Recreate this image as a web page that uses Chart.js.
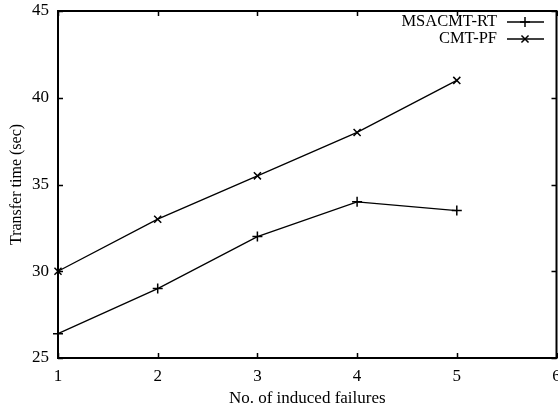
<!DOCTYPE html>
<html>
<head>
<meta charset="utf-8">
<script src="https://cdn.jsdelivr.net/npm/chart.js@4/dist/chart.umd.min.js"></script>
<style>
 html, body { margin: 0; padding: 0; background: #fff; overflow: hidden; }
 #wrap { width: 563px; height: 411px; }
</style>
</head>
<body>
<div id="wrap"><canvas id="myChart"></canvas></div>
<script>
 // Datos
 const failures = [1, 2, 3, 4, 5];
 const msacmtRt = [26.4, 29.0, 32.0, 34.0, 33.5];
 const cmtPf = [30.0, 33.0, 35.5, 38.0, 41.0];
 const xTicks = [1, 2, 3, 4, 5, 6];
 const yTicks = [25, 30, 35, 40, 45];
 const seriesNames = ['MSACMT-RT', 'CMT-PF'];

 const serif = '"Liberation Serif", "Times New Roman", serif';

 function toPoints(ys) {
     return failures.map((x, i) => ({ x: x, y: ys[i] }));
 }

 // marco y marcas hacia dentro, estilo gnuplot
 const framePlugin = {
     id: 'frame',
     afterDraw(chart) {
         const ctx = chart.ctx;
         const a = chart.chartArea;
         const xs = chart.scales.x;
         const ys = chart.scales.y;
         ctx.save();
         ctx.strokeStyle = '#000';
         ctx.lineWidth = 1.5;
         ctx.beginPath();
         xTicks.forEach(v => {
             const px = Math.round(xs.getPixelForValue(v)) + 0.5;
             ctx.moveTo(px, a.bottom); ctx.lineTo(px, a.bottom - 5);
             ctx.moveTo(px, a.top); ctx.lineTo(px, a.top + 5);
         });
         yTicks.forEach(v => {
             const py = Math.round(ys.getPixelForValue(v)) + 0.5;
             ctx.moveTo(a.left, py); ctx.lineTo(a.left + 5, py);
             ctx.moveTo(a.right, py); ctx.lineTo(a.right - 5, py);
         });
         ctx.stroke();
         ctx.lineWidth = 2;
         ctx.strokeRect(a.left, a.top, a.right - a.left, a.bottom - a.top);

         // leyenda
         ctx.font = '16.5px ' + serif;
         ctx.fillStyle = '#000';
         ctx.textAlign = 'right';
         ctx.textBaseline = 'middle';
         chart.data.datasets.forEach((ds, i) => {
             const y = a.top + 11 + i * 17;
             ctx.fillText(ds.label, 497, y);
             ctx.lineWidth = 1.5;
             ctx.beginPath();
             ctx.moveTo(507, y); ctx.lineTo(544, y);
             ctx.stroke();
             Chart.helpers.drawPoint(ctx, { pointStyle: ds.pointStyle, radius: 5, borderWidth: 1.5 }, 525, y);
         });
         ctx.restore();
     }
 };

 new Chart("myChart", {
     type: "line",
     data: {
         datasets: [{
             label: seriesNames[0],
             data: toPoints(msacmtRt),
             borderColor: "#000",
             backgroundColor: "#000",
             borderWidth: 1.3,
             pointStyle: 'cross',
             pointRadius: 5,
             pointBorderWidth: 1.5,
             fill: false,
             clip: false
         }, {
             label: seriesNames[1],
             data: toPoints(cmtPf),
             borderColor: "#000",
             backgroundColor: "#000",
             borderWidth: 1.3,
             pointStyle: 'crossRot',
             pointRadius: 5,
             pointBorderWidth: 1.5,
             fill: false,
             clip: false
         }]
     },
     options: {
         responsive: true,
         maintainAspectRatio: false,
         animation: false,
         layout: { padding: { top: 11, right: 1, left: 0, bottom: 0 } },
         plugins: {
             legend: { display: false },
             tooltip: { enabled: false }
         },
         scales: {
             x: {
                 type: 'linear',
                 min: 1,
                 max: 6,
                 afterBuildTicks: s => { s.ticks = xTicks.map(v => ({ value: v })); },
                 afterFit: s => {
                     s.height = 53;
                     s.paddingLeft = 0;
                     s.paddingRight = 0;
                 },
                 grid: { display: false, drawTicks: false },
                 border: { display: false },
                 ticks: { color: '#000', padding: 8, font: { family: serif, size: 17 } },
                 title: {
                     display: true,
                     text: 'No. of induced failures',
                     color: '#000',
                     font: { family: serif, size: 17 },
                     padding: { top: 0, bottom: 2 }
                 }
             },
             y: {
                 min: 25,
                 max: 45,
                 afterBuildTicks: s => { s.ticks = yTicks.map(v => ({ value: v })); },
                 afterFit: s => {
                     s.width = 58;
                     s.paddingTop = 0;
                     s.paddingBottom = 0;
                 },
                 grid: { display: false, drawTicks: false },
                 border: { display: false },
                 ticks: { color: '#000', padding: 9, font: { family: serif, size: 17 } },
                 title: {
                     display: true,
                     text: 'Transfer time (sec)',
                     color: '#000',
                     font: { family: serif, size: 16 },
                     padding: { top: 7, bottom: 0 }
                 }
             }
         }
     },
     plugins: [framePlugin]
 });
</script>
</body>
</html>
